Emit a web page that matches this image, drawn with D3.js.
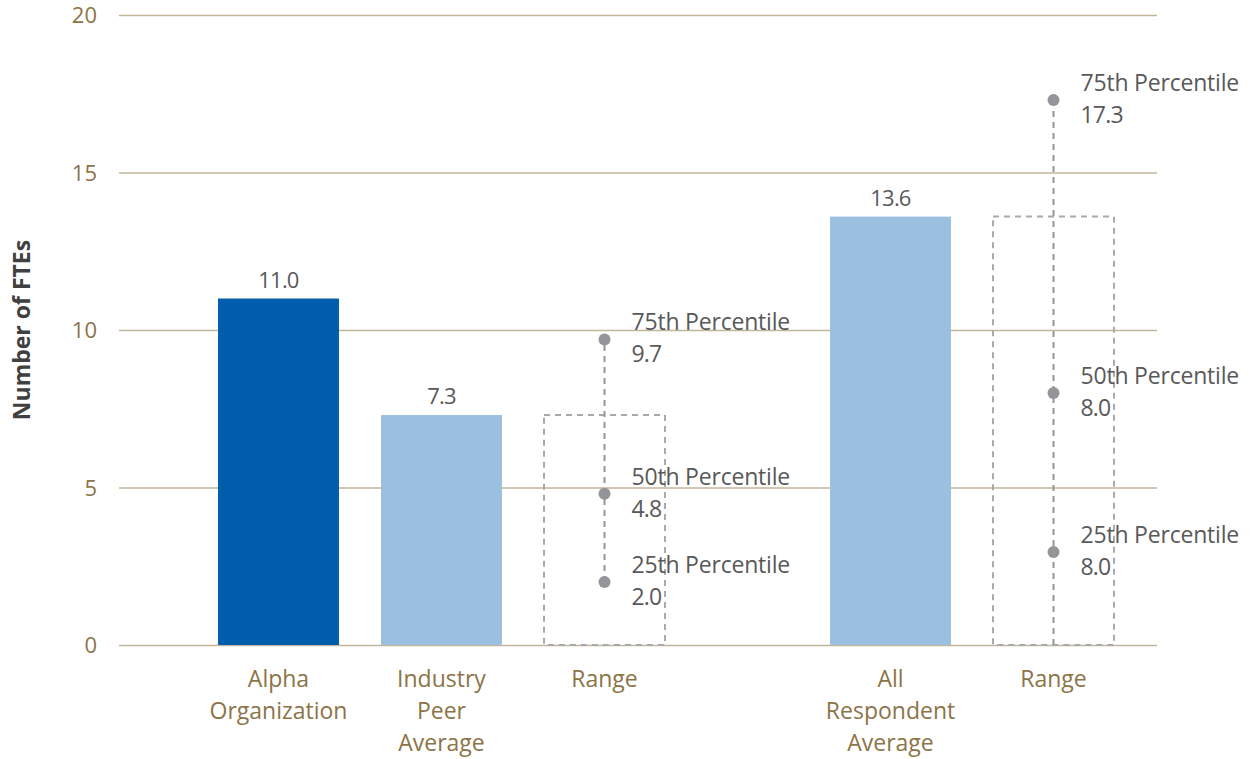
<!DOCTYPE html>
<html>
<head>
<meta charset="utf-8">
<script src="https://cdn.jsdelivr.net/npm/d3@7"></script>
<style>
  html, body { margin: 0; padding: 0; background: #fff; }
  svg { display: block; }
  text { font-family: "Open Sans", "Noto Sans", sans-serif; }
</style>
</head>
<body>
<svg id="chart" width="1251" height="759"></svg>
<script>
// Average bars
const barCategories = ["Alpha Organization", "Industry Peer Average", "All Respondent Average"];
const barLabelLines = [["Alpha", "Organization"], ["Industry", "Peer", "Average"], ["All", "Respondent", "Average"]];
const barValues = [11.0, 7.3, 13.6];
const barLabels = ["11.0", "7.3", "13.6"];

// Range boxes (box height = matching average) and percentile markers
const rangeCategories = ["Range 1", "Range 2"];
const rangeBoxValues = [7.3, 13.6];
const percentileNames = ["75th Percentile", "50th Percentile", "25th Percentile"];
const rangePercentiles = [[9.7, 4.8, 2.0], [17.3, 8.0, 2.95]];
const rangePercentileLabels = [["9.7", "4.8", "2.0"], ["17.3", "8.0", "8.0"]];
const rangeWhiskerLow = [2.0, 0];

const yTicks = [0, 5, 10, 15, 20];
const yTitle = "Number of FTEs";

const svg = d3.select("#chart");

const y = d3.scaleLinear().domain([0, 20]).range([645, 15]);

// two groups of slots along the x axis
const group1 = ["Alpha Organization", "Industry Peer Average", "Range 1"];
const group2 = ["All Respondent Average", "Range 2"];
const x1 = d3.scaleBand().domain(group1).range([197, 686]).paddingInner(0.258).paddingOuter(0.129);
const x2 = d3.scaleBand().domain(group2).range([809, 1135]).paddingInner(0.258).paddingOuter(0.129);
const xPos = c => group1.includes(c) ? x1(c) : x2(c);
const bw = x1.bandwidth();

// gridlines + y tick labels
const yAxis = d3.axisLeft(y).tickValues(yTicks).tickSize(-(1157 - 119)).tickPadding(22);
const gy = svg.append("g").attr("transform", "translate(119,0)").call(yAxis);
gy.select(".domain").remove();
gy.selectAll(".tick line").attr("stroke", "#c3b49c").attr("stroke-width", 1.6);
gy.selectAll(".tick text")
  .attr("fill", "#8c7448")
  .style("font-size", "22px")
  .attr("dy", "0.36em");

// y axis title
svg.append("text")
  .attr("transform", `translate(30,${y(10)}) rotate(-90)`)
  .attr("text-anchor", "middle")
  .attr("fill", "#404040")
  .style("font-size", "23px")
  .style("font-weight", "bold")
  .text(yTitle);

// bars
const barColors = ["#005eac", "#9bc0df", "#9bc0df"];
svg.selectAll("rect.bar").data(barCategories).join("rect")
  .attr("class", "bar")
  .attr("x", c => xPos(c))
  .attr("width", bw)
  .attr("y", (c, i) => y(barValues[i]))
  .attr("height", (c, i) => y(0) - y(barValues[i]))
  .attr("fill", (c, i) => barColors[i]);

svg.selectAll("text.val").data(barCategories).join("text")
  .attr("class", "val")
  .attr("x", c => xPos(c) + bw / 2)
  .attr("y", (c, i) => y(barValues[i]) - 11)
  .attr("text-anchor", "middle")
  .attr("fill", "#595959")
  .style("font-size", "22px")
  .style("letter-spacing", "-0.8px")
  .text((c, i) => barLabels[i]);

// range boxes, whiskers, dots and labels
rangeCategories.forEach((c, i) => {
  const x0 = xPos(c);
  const cx = x0 + bw / 2;
  svg.append("rect")
    .attr("x", x0).attr("width", bw)
    .attr("y", y(rangeBoxValues[i]))
    .attr("height", y(0) - y(rangeBoxValues[i]))
    .attr("fill", "none")
    .attr("stroke", "#a7a9ac")
    .attr("stroke-width", 2)
    .attr("stroke-dasharray", "6,5");
  const pts = rangePercentiles[i];
  svg.append("line")
    .attr("x1", cx).attr("x2", cx)
    .attr("y1", y(rangeWhiskerLow[i]))
    .attr("y2", y(d3.max(pts)))
    .attr("stroke", "#939598")
    .attr("stroke-width", 2)
    .attr("stroke-dasharray", "6,5");
  pts.forEach((v, j) => {
    svg.append("circle")
      .attr("cx", cx).attr("cy", y(v)).attr("r", 6)
      .attr("fill", "#939598");
    const t = svg.append("text")
      .attr("x", cx + 27)
      .attr("fill", "#595959")
      .style("font-size", "23px")
      .style("letter-spacing", "-0.2px");
    t.append("tspan").attr("x", cx + 27).attr("y", y(v) - 9).text(percentileNames[j]);
    t.append("tspan").attr("x", cx + 27).attr("y", y(v) + 23).style("letter-spacing", "-0.8px").text(rangePercentileLabels[i][j]);
  });
});

// category labels
const catNames = barCategories.slice(0, 2).concat(["Range 1"], [barCategories[2]], ["Range 2"]);
const catLines = [barLabelLines[0], barLabelLines[1], ["Range"], barLabelLines[2], ["Range"]];
catNames.forEach((c, i) => {
  const t = svg.append("text")
    .attr("text-anchor", "middle")
    .attr("fill", "#8c7448")
    .style("font-size", "23px");
  catLines[i].forEach((line, k) => {
    t.append("tspan")
      .attr("x", xPos(c) + bw / 2)
      .attr("y", 687 + k * 32)
      .text(line);
  });
});
</script>
</body>
</html>
